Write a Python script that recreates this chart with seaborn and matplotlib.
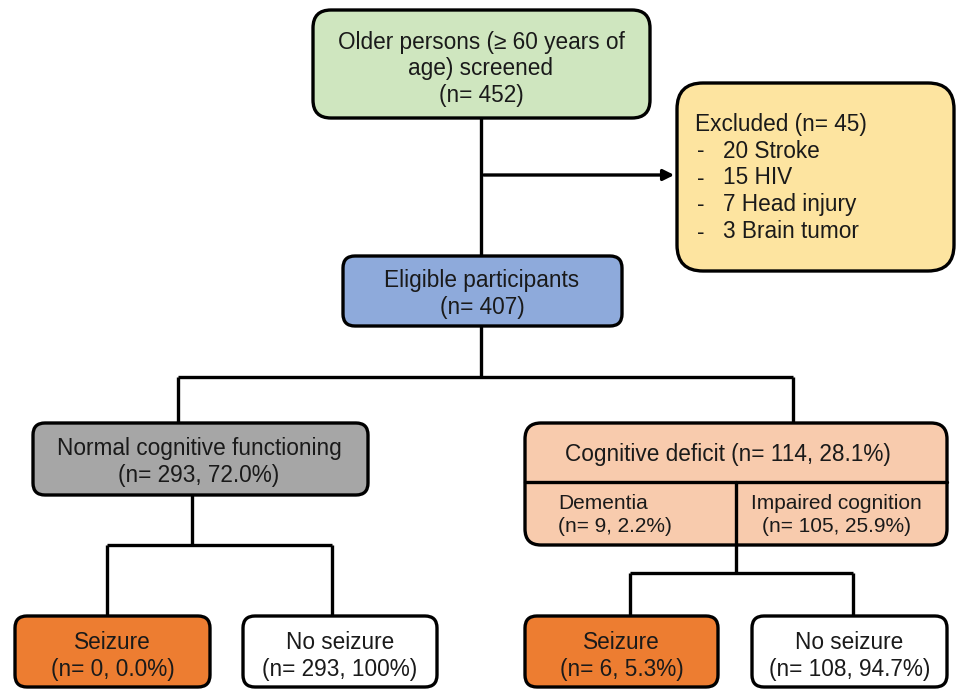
import matplotlib
matplotlib.use("Agg")
import matplotlib.pyplot as plt
from matplotlib.patches import FancyBboxPatch
import seaborn as sns

# flow counts
screened_n = 452
excluded_reasons = ["Stroke", "HIV", "Head injury", "Brain tumor"]
excluded_counts = [20, 15, 7, 3]
eligible_n = 407
group_names = ["Normal cognitive functioning", "Cognitive deficit"]
group_n = [293, 114]
group_pct = ["72.0%", "28.1%"]
deficit_names = ["Dementia", "Impaired cognition"]
deficit_n = [9, 105]
deficit_pct = ["2.2%", "25.9%"]
outcome_names = ["Seizure", "No seizure"]
normal_outcome_n = [0, 293]
normal_outcome_pct = ["0.0%", "100%"]
deficit_outcome_n = [6, 108]
deficit_outcome_pct = ["5.3%", "94.7%"]

sns.set_theme(style="white")
plt.rcParams['font.family'] = ['Liberation Sans', 'DejaVu Sans']

W, H = 957, 689
fig = plt.figure(figsize=(W / 100, H / 100), dpi=100)
ax = fig.add_axes([0, 0, 1, 1])
ax.set_xlim(0, W)
ax.set_ylim(H, 0)
ax.axis('off')

FS = 16.3
FS2 = 15
LS = 1.22
TXT = '#1a1a1a'
LW = 2.4


def box(x0, y0, x1, y1, color, r=14):
    p = FancyBboxPatch((x0, y0), x1 - x0, y1 - y0,
                       boxstyle=f"round,pad=0,rounding_size={r}",
                       fc=color, ec='black', lw=LW, zorder=2)
    ax.add_patch(p)


def line(xs, ys):
    ax.plot(xs, ys, color='black', lw=LW, zorder=1, solid_capstyle='butt')


# connectors
line([481, 481], [118, 256])
ax.annotate('', xy=(677, 175), xytext=(481, 175),
            arrowprops=dict(arrowstyle='-|>', color='black', lw=LW, mutation_scale=16))
line([481, 481], [326, 377])
line([178, 793], [377, 377])
line([178, 178], [377, 423])
line([793, 793], [377, 423])
line([192, 192], [495, 545])
line([107, 332], [545, 545])
line([107, 107], [545, 616])
line([332, 332], [545, 616])
line([736, 736], [545, 573])
line([630, 853], [573, 573])
line([630, 630], [573, 616])
line([853, 853], [573, 616])

# top box
box(313, 10, 650, 118, '#cfe6bf', r=18)
ax.text(481, 69, "Older persons (\u2265 60 years of\nage) screened\n(n= %d)" % screened_n,
        ha='center', va='center', fontsize=FS, color=TXT, linespacing=LS)

# excluded box
box(677, 83, 954, 271, '#fde4a0', r=26)
total_excl = sum(excluded_counts)
ax.text(695, 125, "Excluded (n= %d)" % total_excl, ha='left', va='center',
        fontsize=FS, color=TXT)
for i, (reason, c) in enumerate(zip(excluded_reasons, excluded_counts)):
    yy = 151 + i * 27
    ax.text(697, yy, "-", ha='left', va='center', fontsize=FS, color=TXT)
    ax.text(723, yy, "%d %s" % (c, reason), ha='left', va='center',
            fontsize=FS, color=TXT)

# eligible
box(343, 256, 622, 326, '#8eaadb', r=12)
ax.text(482, 294, "Eligible participants\n(n= %d)" % eligible_n,
        ha='center', va='center', fontsize=FS, color=TXT, linespacing=LS)

# normal cognition
box(33, 423, 368, 495, '#a6a6a6', r=12)
ax.text(199, 462, "%s\n(n= %d, %s)" % (group_names[0], group_n[0], group_pct[0]),
        ha='center', va='center', fontsize=FS, color=TXT, linespacing=LS)

# cognitive deficit
box(525, 423, 947, 545, '#f8cbad', r=16)
ax.plot([525, 947], [482, 482], color='black', lw=LW, zorder=3)
ax.plot([736, 736], [482, 545], color='black', lw=LW, zorder=3)
ax.text(728, 455, "%s (n= %d, %s)" % (group_names[1], group_n[1], group_pct[1]),
        ha='center', va='center', fontsize=FS, color=TXT)
ax.text(558, 515, "%s\n(n= %d, %s)" % (deficit_names[0], deficit_n[0], deficit_pct[0]),
        ha='left', va='center', fontsize=FS2, color=TXT, linespacing=LS)
ax.text(836, 515, "%s\n(n= %d, %s)" % (deficit_names[1], deficit_n[1], deficit_pct[1]),
        ha='center', va='center', fontsize=FS2, color=TXT, linespacing=LS)

# outcome boxes
out_boxes = [(15, 210), (243, 437), (525, 718), (752, 947)]
out_n = normal_outcome_n + deficit_outcome_n
out_pct = normal_outcome_pct + deficit_outcome_pct
out_colors = ['#ed7d31', 'white', '#ed7d31', 'white']
for i, (x0, x1) in enumerate(out_boxes):
    box(x0, 616, x1, 687, out_colors[i], r=12)
    ax.text((x0 + x1) / 2, 656, "%s\n(n= %d, %s)" % (outcome_names[i % 2], out_n[i], out_pct[i]),
            ha='center', va='center', fontsize=FS, color=TXT, linespacing=LS)

fig.savefig('out.png', dpi=100)
